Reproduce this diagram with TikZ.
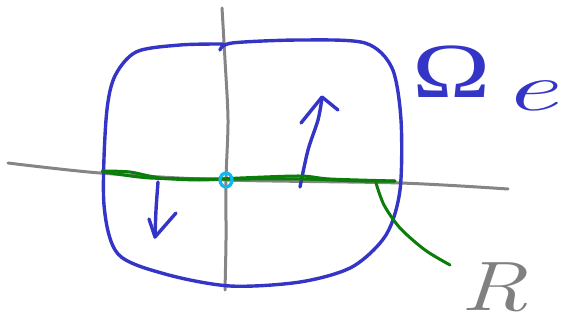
\documentclass[tikz,border=0pt]{standalone}
\usepackage{fontspec}
\newfontfamily\omegafont{Liberation Serif}
\begin{document}
\begin{tikzpicture}[x=1pt,y=-1pt,line cap=round,line join=round,
  gray line/.style={draw=black!48,line width=3pt},
  blue line/.style={draw=blueink,line width=3.4pt},
  green line/.style={draw=greenink,line width=3pt},
  cyan line/.style={draw=cyanink,line width=3.2pt}]
\definecolor{blueink}{HTML}{3434C6}
\definecolor{greenink}{HTML}{0B7D0B}
\definecolor{cyanink}{HTML}{12B6EE}
\definecolor{grayink}{HTML}{808080}
\useasboundingbox (0,0) rectangle (564,324);
% axes
\draw[gray line] plot[smooth] coordinates {(222,8) (225,60) (228,120) (226,180) (226,240) (225,290)};
\draw[gray line] plot[smooth] coordinates {(8,163) (100,173) (225,180) (400,183) (508,189)};
% blue domain
\draw[blue line] plot[smooth] coordinates {(220,50) (232,43) (300,40) (365,43) (392,68) (401,120) (400,190) (386,235) (352,267) (300,282) (230,286) (165,274) (118,254) (104,205) (106,120) (114,78) (136,52) (180,45) (223,44)};
% arrows
\draw[blue line] plot[smooth] coordinates {(300,187) (308,150) (318,120) (322,98)};
\draw[blue line] (301,123) -- (322,97) -- (338,110);
\draw[blue line] plot[smooth] coordinates {(158,182) (156,210) (155,237)};
\draw[blue line] (149,219) -- (155,237) -- (176,213);
% green boundary
\draw[green line] plot[smooth] coordinates {(102,171) (130,172) (160,178) (200,180) (240,178) (300,176) (330,179) (395,181)};
\draw[green line] plot[smooth] coordinates {(105,172) (150,178) (225,179) (300,179) (360,181) (395,181)};
\draw[green line] plot[smooth] coordinates {(376,183) (384,205) (400,228) (425,250) (450,265)};
% centre point
\draw[cyan line] (226,180) ellipse (6pt and 7pt);
% labels
\node[text=blueink,anchor=base west,inner sep=0pt] (omega) at (412,97) {\scalebox{1.35}[1]{\fontsize{78}{78}\selectfont\omegafont Ω}};
\node[text=blueink,anchor=base west,inner sep=0pt] (e) at (502,110) {\scalebox{1.8}[1]{\fontsize{68}{68}\selectfont\itshape e}};
\node[text=grayink,anchor=base west,inner sep=0pt] (R) at (460,310) {\scalebox{1.35}[1]{\fontsize{70}{70}\selectfont\itshape R}};
\end{tikzpicture}
\end{document}
